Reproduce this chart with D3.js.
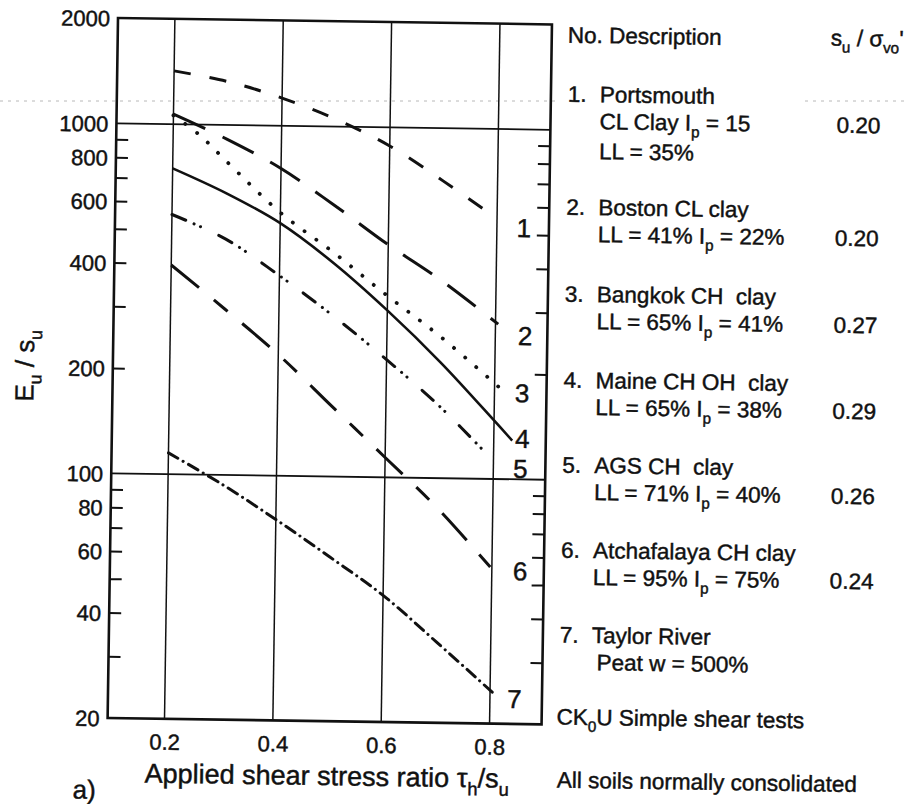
<!DOCTYPE html>
<html>
<head>
<meta charset="utf-8">
<script src="https://cdn.jsdelivr.net/npm/d3@7"></script>
<style>
  html, body { margin: 0; padding: 0; background: #fff; }
  svg { display: block; }
  text { font-family: "Liberation Sans", Arial, Helvetica, sans-serif; fill: #111; white-space: pre;
         stroke: #111; stroke-width: 0.45px; }
</style>
</head>
<body>
<svg id="chart" width="908" height="804"></svg>
<script>
// ---- axis values ----
const xTickValues = [0.2, 0.4, 0.6, 0.8];
const xTickLabels = ["0.2", "0.4", "0.6", "0.8"];
const xExtent = [0.095, 0.896];
const yExtent = [20, 2000];
const yLabelValues = [20, 40, 60, 80, 100, 200, 400, 600, 800, 1000, 2000];
const yTickMarks = [30, 40, 50, 60, 70, 80, 90, 200, 300, 400, 500, 600, 700, 800, 900];
const yGridValues = [100, 1000];

// ---- curves: applied shear stress ratio vs Eu/su ----
const curveNames = ["1", "2", "3", "4", "5", "6", "7"];
const ratio1 = [0.2, 0.3, 0.4, 0.5, 0.6, 0.7, 0.783];
const modulus1 = [1420, 1330, 1200, 1050, 885, 706, 578];
const ratio2 = [0.2, 0.3, 0.4, 0.5, 0.6, 0.7, 0.805];
const modulus2 = [1068, 910, 755, 595, 462, 366, 277];
const ratio3 = [0.2, 0.25, 0.3, 0.4, 0.5, 0.6, 0.7, 0.81];
const modulus3 = [1060, 930, 785, 565, 436, 330, 253, 182];
const ratio4 = [0.2, 0.3, 0.4, 0.5, 0.6, 0.7, 0.8, 0.834];
const modulus4 = [748, 638, 527, 407, 300, 214, 147, 129];
const ratio5 = [0.2, 0.3, 0.4, 0.5, 0.6, 0.7, 0.794];
const modulus5 = [552, 472, 373, 288, 217, 160, 115];
const ratio6 = [0.2, 0.3, 0.4, 0.5, 0.6, 0.7, 0.797];
const modulus6 = [396, 298, 222, 159, 114, 81.5, 56];
const ratio7 = [0.2, 0.3, 0.4, 0.5, 0.6, 0.7, 0.804];
const modulus7 = [115, 94, 75, 59, 46, 34, 24.6];

// curve number tags (ratio, Eu/su)
const tagRatio = [0.850, 0.855, 0.851, 0.853, 0.850, 0.852, 0.845];
const tagModulus = [492, 242, 166, 123, 101, 51.5, 22.2];

// ---- soil descriptions ----
const soilNumbers = ["1.", "2.", "3.", "4.", "5.", "6.", "7."];
const soilNames = ["Portsmouth", "Boston CL clay", "Bangkok CH  clay", "Maine CH OH  clay",
                   "AGS CH  clay", "Atchafalaya CH clay", "Taylor River"];
const soilDetails = [
  ["CL Clay I_{p} = 15", "LL = 35%"],
  ["LL = 41% I_{p} = 22%"],
  ["LL = 65% I_{p} = 41%"],
  ["LL = 65% I_{p} = 38%"],
  ["LL = 71% I_{p} = 40%"],
  ["LL = 95% I_{p} = 75%"],
  ["Peat w = 500%"]
];
const strengthRatios = ["0.20", "0.20", "0.27", "0.29", "0.26", "0.24", ""];

// ---- layout ----
const plotLeft = 118, plotTop = 18, plotW = 434, plotH = 700;
const tilt = 0.85;

const svg = d3.select("#chart");

// faint horizontal fold mark across the sheet
svg.append("g")
  .selectAll("line")
  .data([[0, 560], [805, 908]])
  .join("line")
  .attr("x1", d => d[0]).attr("x2", d => d[1])
  .attr("y1", 101).attr("y2", 101)
  .attr("stroke", "#b8b8b8").attr("stroke-width", 1)
  .attr("stroke-dasharray", "3,5");

const g = svg.append("g").attr("transform", `rotate(${tilt} ${plotLeft} ${plotTop})`);

const x = d3.scaleLinear().domain(xExtent).range([plotLeft, plotLeft + plotW]);
const y = d3.scaleLog().domain(yExtent).range([plotTop + plotH, plotTop]);

// text with _{...} subscripts
function rich(sel, str, size) {
  const parts = str.split(/(_\{[^}]*\})/).filter(s => s.length);
  const shift = size * 0.3;
  let lowered = false;
  parts.forEach(p => {
    const m = p.match(/^_\{([^}]*)\}$/);
    if (m) {
      sel.append("tspan").attr("font-size", size * 0.68).attr("dy", shift).text(m[1]);
      lowered = true;
    } else {
      const t = sel.append("tspan").text(p);
      if (lowered) { t.attr("dy", -shift); lowered = false; }
    }
  });
  return sel;
}

// vertical grid lines
g.append("g")
  .selectAll("line")
  .data(xTickValues)
  .join("line")
  .attr("x1", d => x(d)).attr("x2", d => x(d))
  .attr("y1", plotTop).attr("y2", plotTop + plotH)
  .attr("stroke", "#111").attr("stroke-width", 1.5);

// horizontal grid lines at the decades
g.append("g")
  .selectAll("line")
  .data(yGridValues)
  .join("line")
  .attr("x1", plotLeft).attr("x2", plotLeft + plotW)
  .attr("y1", d => y(d)).attr("y2", d => y(d))
  .attr("stroke", "#111").attr("stroke-width", 1.8);

// inward tick marks on both vertical sides
const leftTicks = g.append("g")
  .attr("transform", `translate(${plotLeft},0)`)
  .call(d3.axisRight(y).tickValues(yTickMarks).tickSize(12).tickFormat(""));
const rightTicks = g.append("g")
  .attr("transform", `translate(${plotLeft + plotW},0)`)
  .call(d3.axisLeft(y).tickValues(yTickMarks).tickSize(12).tickFormat(""));
[leftTicks, rightTicks].forEach(a => {
  a.select(".domain").remove();
  a.selectAll("line").attr("stroke", "#111").attr("stroke-width", 2);
});

// y labels
const yAxis = g.append("g")
  .attr("transform", `translate(${plotLeft},0)`)
  .call(d3.axisLeft(y).tickValues(yLabelValues).tickSize(0).tickPadding(8).tickFormat(d3.format("d")));
yAxis.select(".domain").remove();
yAxis.selectAll("text")
  .attr("font-size", 22)
  .attr("font-family", "Liberation Sans, Arial, sans-serif")
  .attr("fill", "#111")
  .attr("dy", "0.36em");

// x labels
const xAxis = g.append("g")
  .attr("transform", `translate(0,${plotTop + plotH})`)
  .call(d3.axisBottom(x).tickValues(xTickValues).tickSize(0)
        .tickFormat((d, i) => xTickLabels[i]));
xAxis.select(".domain").remove();
xAxis.selectAll("text")
  .attr("y", 31).attr("dy", null)
  .attr("font-size", 22)
  .attr("font-family", "Liberation Sans, Arial, sans-serif")
  .attr("fill", "#111");

// frame
g.append("rect")
  .attr("x", plotLeft).attr("y", plotTop)
  .attr("width", plotW).attr("height", plotH)
  .attr("fill", "none").attr("stroke", "#111").attr("stroke-width", 2.6);

// curves
const ratios = [ratio1, ratio2, ratio3, ratio4, ratio5, ratio6, ratio7];
const moduli = [modulus1, modulus2, modulus3, modulus4, modulus5, modulus6, modulus7];
const curveStyles = [
  { dash: "17,19", width: 3, cap: "butt" },
  { dash: "35,19", width: 3, cap: "butt" },
  { dash: "0.1,14.5", width: 3.8, cap: "round" },
  { dash: null, width: 2.6, cap: "butt" },
  { dash: "15,9,0.1,7,0.1,20", width: 3, cap: "round" },
  { dash: "36,19,18,19", width: 3, cap: "butt" },
  { dash: "11,6,0.1,6", width: 3, cap: "round" }
];
const line = d3.line().x(d => x(d[0])).y(d => y(d[1])).curve(d3.curveCatmullRom.alpha(0.5));

g.append("g")
  .selectAll("path")
  .data(curveNames.map((n, i) => ({ n, pts: d3.zip(ratios[i], moduli[i]), s: curveStyles[i] })))
  .join("path")
  .attr("d", d => line(d.pts))
  .attr("fill", "none")
  .attr("stroke", "#111")
  .attr("stroke-width", d => d.s.width)
  .attr("stroke-linecap", d => d.s.cap)
  .attr("stroke-dasharray", d => d.s.dash);

// curve numbers
g.append("g")
  .selectAll("text")
  .data(curveNames)
  .join("text")
  .attr("x", (d, i) => x(tagRatio[i]))
  .attr("y", (d, i) => y(tagModulus[i]))
  .attr("text-anchor", "middle")
  .attr("font-size", 26)
  .text(d => d);

// axis titles
rich(g.append("text")
  .attr("transform", `translate(39,367) rotate(-90)`)
  .attr("text-anchor", "middle")
  .attr("font-size", 26), "E_{u} / s_{u}", 26);

rich(g.append("text")
  .attr("x", plotLeft + plotW / 2 + 3).attr("y", 782)
  .attr("text-anchor", "middle")
  .attr("font-size", 27), "Applied shear stress ratio \u03C4_{h}/s_{u}", 27);

g.append("text").attr("x", 84).attr("y", 799).attr("font-size", 26).text("a)");

// description table
const fs = 22.5;
const legend = g.append("g").attr("font-size", fs);
const numX = 569, nameX = 601, valX = 838;
const nameRows = [95, 208, 295, 381, 466, 551, 636];

legend.append("text").attr("x", 568).attr("y", 36).text("No. Description");
rich(legend.append("text").attr("x", 831).attr("y", 35), "s_{u} / \u03C3_{vo}'", fs);

soilNames.forEach((name, i) => {
  const yb = nameRows[i];
  legend.append("text").attr("x", numX).attr("y", yb).text(soilNumbers[i]);
  legend.append("text").attr("x", nameX).attr("y", yb).text(name);
  soilDetails[i].forEach((det, j) => {
    rich(legend.append("text")
      .attr("x", i === 6 ? nameX + 5 : nameX)
      .attr("y", yb + 27 + j * 30), det, fs);
  });
  if (strengthRatios[i]) {
    legend.append("text").attr("x", valX).attr("y", yb + 27).text(strengthRatios[i]);
  }
});

rich(legend.append("text").attr("x", 567).attr("y", 718), "CK_{0}U Simple shear tests", fs);
legend.append("text").attr("x", 568).attr("y", 781).text("All soils normally consolidated");
</script>
</body>
</html>
